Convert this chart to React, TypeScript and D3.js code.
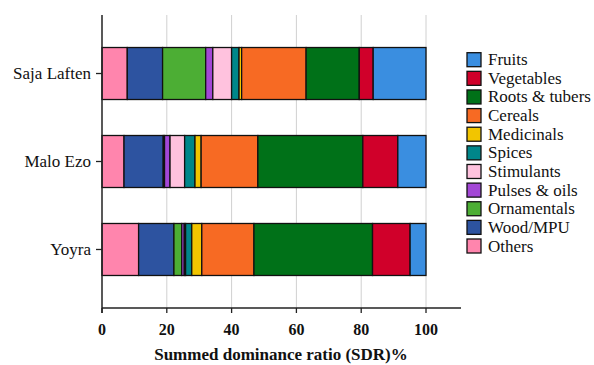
import React from "react";
import * as d3 from "d3";

const sites = ["Saja Laften", "Malo Ezo", "Yoyra"];
const seriesNames = [
  "Others",
  "Wood/MPU",
  "Ornamentals",
  "Pulses & oils",
  "Stimulants",
  "Spices",
  "Medicinals",
  "Cereals",
  "Roots & tubers",
  "Vegetables",
  "Fruits",
];
const others = [7.8, 6.8, 11.3];
const wood = [10.9, 12.1, 10.9];
const ornamentals = [13.3, 0.4, 2.4];
const pulses = [2.2, 1.7, 0.8];
const stimulants = [5.8, 4.5, 0.4];
const spices = [2.3, 3.2, 1.9];
const medicinals = [0.8, 1.9, 3.1];
const cereals = [19.9, 17.5, 16.1];
const roots = [16.4, 32.4, 36.6];
const vegetables = [4.3, 10.8, 11.6];
const fruits = [16.3, 8.7, 4.9];
const xTicks = [0, 20, 40, 60, 80, 100];

const colors: Record<string, string> = {
  Others: "#ff85ad",
  "Wood/MPU": "#2d53a0",
  Ornamentals: "#4cae34",
  "Pulses & oils": "#a347d6",
  Stimulants: "#ffc2de",
  Spices: "#00868a",
  Medicinals: "#f2c500",
  Cereals: "#f76a23",
  "Roots & tubers": "#007118",
  Vegetables: "#d0002a",
  Fruits: "#3a8ee0",
};

const seriesValues = [
  others, wood, ornamentals, pulses, stimulants, spices, medicinals, cereals, roots, vegetables, fruits,
];

const font = '"Liberation Serif", "DejaVu Serif", serif';

export default function App() {
  const W = 594, H = 365;
  const left = 102, right = 461, top = 15, bottom = 308;
  const x = d3.scaleLinear().domain([0, 110.8]).range([left, right]);
  const y = d3.scalePoint<string>().domain(sites).range([top, bottom]).padding(0.665);
  const barH = 52;

  const table = sites.map((s, i) => {
    const row: Record<string, number | string> = { site: s };
    seriesNames.forEach((n, j) => (row[n] = seriesValues[j][i]));
    return row;
  });
  const stacked = d3.stack<any>().keys(seriesNames)(table);
  const legendItems = [...seriesNames].reverse();
  const ts = { fontFamily: font };

  return (
    <svg width={W} height={H} style={{ position: "absolute", left: 0, top: 0, background: "#fff", fontFamily: font }}>
      {xTicks.filter((t) => t > 0).map((t) => (
        <line key={"g" + t} x1={x(t)} x2={x(t)} y1={top} y2={bottom} stroke="#d0d0d0" strokeWidth={1} />
      ))}
      {stacked.map((layer) => (
        <g key={layer.key} fill={colors[layer.key]}>
          {layer.map((d, i) => (
            <rect
              key={i}
              x={x(d[0])}
              y={(y(sites[i]) as number) - barH / 2}
              width={x(d[1]) - x(d[0])}
              height={barH}
              stroke="#111"
              strokeWidth={1.3}
            />
          ))}
        </g>
      ))}
      <line x1={left} x2={left} y1={top} y2={bottom + 5} stroke="#222" strokeWidth={1.5} />
      <line x1={left} x2={right} y1={bottom} y2={bottom} stroke="#222" strokeWidth={1.5} />
      {xTicks.map((t) => (
        <g key={t}>
          <line x1={x(t)} x2={x(t)} y1={bottom} y2={bottom + 5} stroke="#222" strokeWidth={1.3} />
          <text x={x(t)} y={335} textAnchor="middle" fontSize={16} fontWeight="bold" fill="#111" style={ts}>
            {t}
          </text>
        </g>
      ))}
      {sites.map((s) => (
        <g key={s}>
          <line x1={left - 6} x2={left} y1={y(s)} y2={y(s)} stroke="#222" strokeWidth={1.3} />
          <text x={left - 11} y={(y(s) as number) + 5.5} textAnchor="end" fontSize={17} fill="#111" style={ts}>
            {s}
          </text>
        </g>
      ))}
      <text x={281} y={360} textAnchor="middle" fontSize={17} fontWeight="bold" fill="#111" style={ts}>
        Summed dominance ratio (SDR)%
      </text>
      {legendItems.map((n, i) => (
        <g key={n} transform={`translate(467, ${52.7 + i * 18.63})`}>
          <rect x={0} y={0} width={14} height={14} fill={colors[n]} stroke="#111" strokeWidth={1.3} />
          <text x={21} y={12.5} fontSize={17} fill="#111" style={ts}>
            {n}
          </text>
        </g>
      ))}
    </svg>
  );
}
